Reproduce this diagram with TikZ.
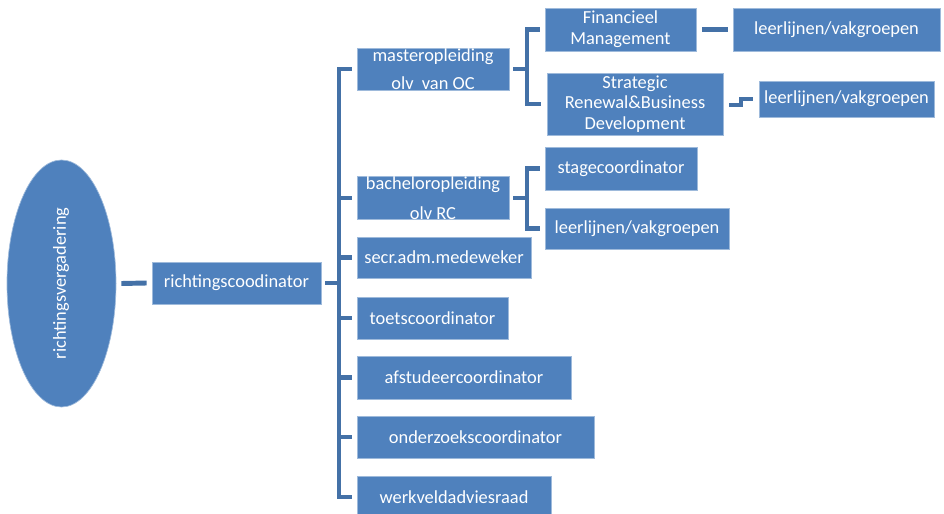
\documentclass[tikz,border=0pt]{standalone}
\usepackage{fontspec}
\setmainfont{Carlito}
\usetikzlibrary{shapes.geometric}
\definecolor{boxblue}{HTML}{4F81BD}
\definecolor{connblue}{HTML}{4471A7}
\tikzset{
  box/.style={rectangle, fill=boxblue, draw=boxblue!55!white, line width=0.5pt,
    text=white, inner sep=0pt, align=center, font=\fontsize{13.8}{16}\selectfont},
  conn/.style={draw=connblue, line width=3.7pt, line join=miter, line cap=butt},
}
\begin{document}
\begin{tikzpicture}[x=0.75pt,y=-0.75pt]
\useasboundingbox (0,0) rectangle (944,513);
% nodes
\node[ellipse, fill=boxblue, draw=boxblue!55!white, line width=0.5pt, inner sep=0pt,
  minimum width=81.75pt, minimum height=185.25pt] (rv) at (61.5,283.5) {};
\node[text=white, rotate=90, font=\fontsize{13.8}{16}\selectfont, inner sep=0pt] (rvt) at (61,283.5) {richtingsvergadering};
\node[box, minimum width=126.75pt, minimum height=31.5pt] (rc) at (236.5,283) {richtingscoodinator};
\node[box, minimum width=114pt, minimum height=31.5pt, font=\fontsize{13.8}{21}\selectfont] (master) at (433,69) {masteropleiding\\olv\ \ van OC};
\node[box, minimum width=113.25pt, minimum height=32.25pt, font=\fontsize{13.8}{15.75}\selectfont] (fm) at (620.5,29.5) {Financieel\\Management};
\node[box, minimum width=155.25pt, minimum height=32.25pt] (l1) at (836.5,29.5) {leerlijnen/vakgroepen};
\node[box, minimum width=132pt, minimum height=46.5pt, font=\fontsize{13.8}{15.4}\selectfont] (sr) at (635,104) {Strategic\\Renewal\&Business\\Development};
\node[box, minimum width=131.25pt, minimum height=27pt] (l2) at (846.5,99) {leerlijnen/vakgroepen};
\node[box, minimum width=114pt, minimum height=31.5pt, font=\fontsize{13.8}{22.5}\selectfont] (bach) at (433,198) {bacheloropleiding\\olv RC};
\node[box, minimum width=114pt, minimum height=32.25pt] (stage) at (621,168.5) {stagecoordinator};
\node[box, minimum width=138pt, minimum height=30.75pt] (l3) at (637,228.5) {leerlijnen/vakgroepen};
\node[box, minimum width=130.5pt, minimum height=30.75pt] (secr) at (444,257.5) {secr.adm.medeweker};
\node[box, minimum width=113.25pt, minimum height=31.5pt] (toets) at (432.5,318) {toetscoordinator};
\node[box, minimum width=160.5pt, minimum height=32.25pt] (afst) at (464,377.5) {afstudeercoordinator};
\node[box, minimum width=177.75pt, minimum height=31.5pt] (onder) at (475.5,437) {onderzoekscoordinator};
\node[box, minimum width=145.5pt, minimum height=31.5pt] (werk) at (454,497) {werkveldadviesraad};
% helper coordinates
\coordinate (t) at (339,0);
\coordinate (bm) at (527,0);
\coordinate (el) at (741,0);
% connectors
\draw[conn] ([xshift=3.75pt]rv.east) -- ([xshift=-3.75pt]rc.west);
\draw[conn] ([xshift=3pt]rc.east) -- (t |- rc.east);
\draw[conn] ([xshift=-3.75pt]master.west) -- (t |- master.west) -- (t |- werk.west) -- ([xshift=-3.75pt]werk.west);
\foreach \n in {bach,secr,toets,afst,onder}
  \draw[conn] (t |- \n.west) -- ([xshift=-3.75pt]\n.west);
% master bracket
\draw[conn] ([xshift=3pt]master.east) -- (bm |- master.east);
\draw[conn] ([xshift=-3.75pt]fm.west) -- (bm |- fm.west) -- (bm |- sr.west) -- ([xshift=-4.5pt]sr.west);
% bachelor bracket
\draw[conn] ([xshift=3pt]bach.east) -- (bm |- bach.east);
\draw[conn] ([xshift=-3.75pt]stage.west) -- (bm |- stage.west) -- (bm |- l3.west) -- ([xshift=-3.75pt]l3.west);
% level 3
\draw[conn] ([xshift=4.5pt]fm.east) -- ([xshift=-3.75pt]l1.west);
\draw[conn] ([xshift=4.5pt,yshift=-0.75pt]sr.east) -- (el |- 0,105) -- (el |- l2.west) -- ([xshift=-4.5pt]l2.west);
\end{tikzpicture}
\end{document}
